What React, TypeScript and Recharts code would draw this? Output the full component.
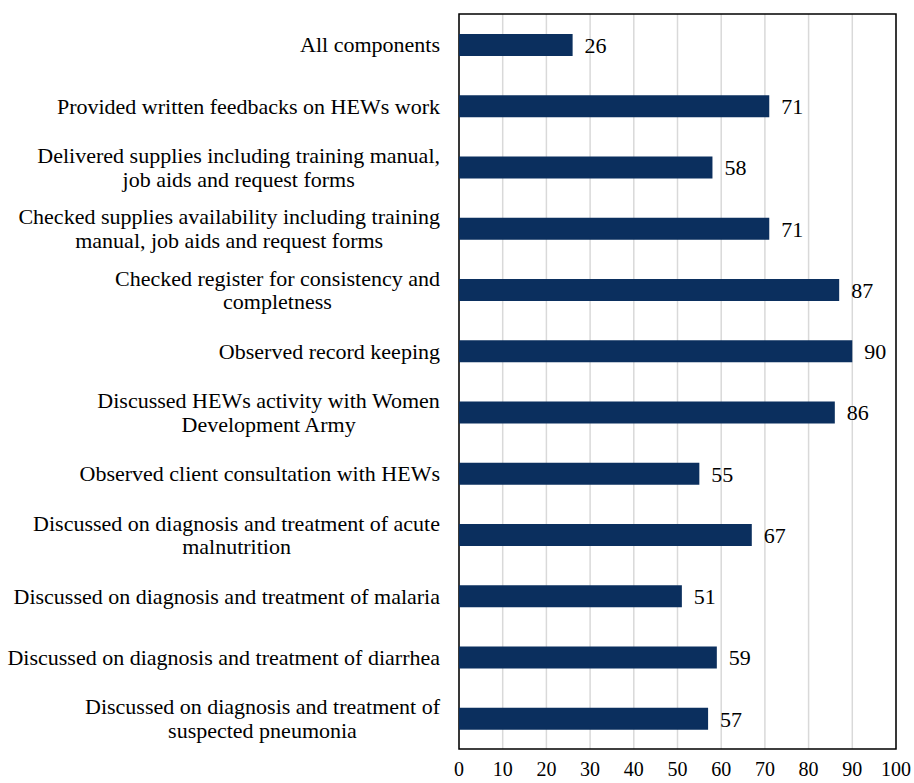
import React from 'react'
import {
  BarChart,
  Bar,
  XAxis,
  YAxis,
  CartesianGrid,
  ReferenceArea,
  LabelList,
} from 'recharts'

// categories top to bottom, "\n" marks where the label wraps
const categories = [
  'All components',
  'Provided written feedbacks on HEWs work',
  'Delivered supplies including training manual,\njob aids and request forms',
  'Checked supplies availability including training\nmanual, job aids and request forms',
  'Checked register for consistency and\ncompletness',
  'Observed record keeping',
  'Discussed HEWs activity with Women\nDevelopment Army',
  'Observed client consultation with HEWs',
  'Discussed on diagnosis and treatment of acute\nmalnutrition',
  'Discussed on diagnosis and treatment of malaria',
  'Discussed on diagnosis and treatment of diarrhea',
  'Discussed on diagnosis and treatment of\nsuspected pneumonia',
]

const percentages = [26, 71, 58, 71, 87, 90, 86, 55, 67, 51, 59, 57]

const xTicks = [0, 10, 20, 30, 40, 50, 60, 70, 80, 90, 100]

const data = categories.map((name, i) => ({ name, value: percentages[i] }))

const FONT = '"Liberation Serif", "Times New Roman", serif'
const LABEL_SIZE = 22

let ctx: CanvasRenderingContext2D | null = null
function measure(text: string) {
  if (!ctx && typeof document !== 'undefined') {
    ctx = document.createElement('canvas').getContext('2d')
  }
  if (!ctx) return text.length * 10
  ctx.font = `${LABEL_SIZE}px ${FONT}`
  return ctx.measureText(text).width
}

function CategoryTick(props: any) {
  const { x, y, payload } = props
  const lines: string[] = String(payload.value).split('\n')
  const widest = Math.max(...lines.map(measure))
  const cx = x - widest / 2
  const lineH = 23.5
  const startY = y - ((lines.length - 1) * lineH) / 2
  return (
    <text
      x={cx}
      y={startY}
      textAnchor="middle"
      fontFamily={FONT}
      fontSize={LABEL_SIZE}
      fill="#000"
    >
      {lines.map((l, i) => (
        <tspan key={i} x={cx} y={startY + i * lineH} dy="0.35em">
          {l}
        </tspan>
      ))}
    </text>
  )
}

export default function App() {
  return (
    <div style={{ position: 'absolute', left: 0, top: 0, width: 914, height: 783, background: '#fff' }}>
      <BarChart
        width={914}
        height={783}
        data={data}
        layout="vertical"
        margin={{ top: 14, right: 18, left: 0, bottom: 0 }}
        barCategoryGap={0}
      >
        <CartesianGrid horizontal={false} stroke="#d9d9d9" strokeWidth={1.5} />
        <XAxis
          type="number"
          domain={[0, 100]}
          ticks={xTicks}
          interval={0}
          axisLine={false}
          tickLine={false}
          tickSize={0}
          tickMargin={13}
          height={34}
          tick={{ fontSize: 20, fill: '#000', fontFamily: FONT }}
        />
        <YAxis
          type="category"
          dataKey="name"
          width={459}
          axisLine={false}
          tickLine={false}
          tickSize={0}
          tickMargin={19}
          interval={0}
          tick={<CategoryTick />}
        />
        <ReferenceArea x1={0} x2={100} fill="none" fillOpacity={0} stroke="#000" strokeWidth={1.5} ifOverflow="visible" />
        <Bar dataKey="value" fill="#0b2f5e" barSize={22} isAnimationActive={false}>
          <LabelList
            dataKey="value"
            position="right"
            offset={12}
            fill="#000"
            fontSize={LABEL_SIZE}
            fontFamily={FONT}
          />
        </Bar>
      </BarChart>
    </div>
  )
}
